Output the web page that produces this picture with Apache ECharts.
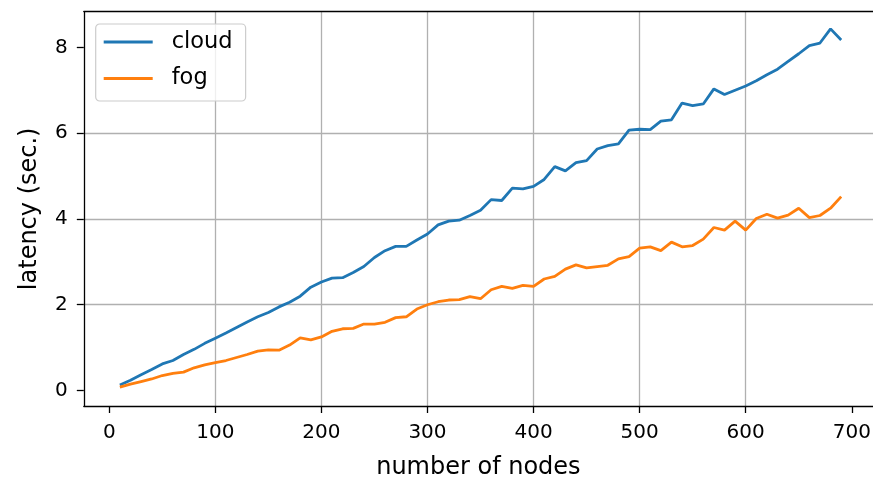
<!DOCTYPE html>
<html>
<head>
<meta charset="utf-8">
<script src="https://cdn.jsdelivr.net/npm/echarts@6/dist/echarts.min.js"></script>
<style>
html,body{margin:0;padding:0;background:#fff;}
#chart{width:873px;height:477px;}
</style>
</head>
<body>
<div id="chart"></div>
<script>
var nodes = [10,20,30,40,50,60,70,80,90,100,110,120,130,140,150,160,170,180,190,200,
  210,220,230,240,250,260,270,280,290,300,310,320,330,340,350,360,370,380,390,400,
  410,420,430,440,450,460,470,480,490,500,510,520,530,540,550,560,570,580,590,600,
  610,620,630,640,650,660,670,680,690];
var cloud = [0.13,0.24,0.37,0.49,0.62,0.70,0.84,0.96,1.10,1.22,1.34,1.47,1.60,1.72,1.82,1.95,2.06,2.20,2.41,2.53,
  2.62,2.63,2.75,2.89,3.10,3.26,3.36,3.36,3.51,3.65,3.86,3.95,3.97,4.08,4.20,4.45,4.43,4.72,4.70,4.76,
  4.92,5.22,5.12,5.31,5.36,5.63,5.71,5.75,6.07,6.09,6.08,6.28,6.31,6.70,6.64,6.68,7.03,6.90,7.00,7.10,
  7.22,7.36,7.49,7.67,7.85,8.04,8.10,8.43,8.17];
var fog = [0.08,0.15,0.21,0.27,0.35,0.40,0.43,0.53,0.60,0.65,0.70,0.77,0.84,0.92,0.95,0.94,1.06,1.23,1.18,1.25,
  1.38,1.44,1.45,1.55,1.55,1.59,1.70,1.72,1.90,2.00,2.07,2.11,2.12,2.19,2.14,2.35,2.43,2.38,2.45,2.43,
  2.60,2.66,2.83,2.93,2.86,2.89,2.92,3.07,3.12,3.32,3.35,3.26,3.46,3.35,3.38,3.53,3.80,3.74,3.95,3.74,
  4.01,4.11,4.02,4.09,4.25,4.03,4.08,4.25,4.52];
var xTicks = [0,100,200,300,400,500,600,700];
var yTicks = [0,2,4,6,8];
var seriesNames = ['cloud','fog'];

function pairs(xs, ys){ return xs.map(function(x,i){ return [x, ys[i]]; }); }

var FONT = 'DejaVu Sans';
var XMIN = -24, XMAX = 720, YMIN = -0.36, YMAX = 8.83;
var chart = echarts.init(document.getElementById('chart'), null, {renderer:'canvas'});
chart.setOption({
  animation: false,
  backgroundColor: '#ffffff',
  grid: {left: 83.8, top: 11.7, right: 0, bottom: 71, show: false, containLabel: false, outerBoundsMode: 'none'},
  legend: {
    data: seriesNames, orient: 'vertical', left: 95.7, top: 24,
    icon: 'rect', itemWidth: 49, itemHeight: 2.8, itemGap: 13.5,
    padding: [6.5, 13, 11, 8],
    backgroundColor: 'rgba(255,255,255,0.8)', borderColor: '#cccccc', borderWidth: 1.2, borderRadius: 4,
    textStyle: {fontFamily: FONT, fontSize: 22.5, color: '#000', padding: [0,0,0,14]}
  },
  xAxis: [{
    type: 'value', min: XMIN, max: XMAX, position: 'bottom',
    name: 'number of nodes', nameLocation: 'middle', nameGap: 50,
    nameTextStyle: {fontFamily: FONT, fontSize: 24, color: '#000'},
    axisLine: {show: true, onZero: false, lineStyle: {color: '#000', width: 1.3}},
    axisTick: {show: true, inside: false, length: 7, lineStyle: {color: '#000', width: 1.3}, customValues: xTicks},
    axisLabel: {fontFamily: FONT, fontSize: 20, color: '#000', margin: 17, customValues: xTicks},
    splitLine: {show: true, showMinLine: false, showMaxLine: false, lineStyle: {color: '#b0b0b0', width: 1.3}}
  }, {
    type: 'value', min: XMIN, max: XMAX, position: 'top',
    axisLine: {show: true, onZero: false, lineStyle: {color: '#000', width: 1.3}},
    axisTick: {show: false}, axisLabel: {show: false}, splitLine: {show: false}
  }],
  yAxis: {
    type: 'value', min: YMIN, max: YMAX,
    name: 'latency (sec.)', nameLocation: 'middle', nameGap: 42.5,
    nameTextStyle: {fontFamily: FONT, fontSize: 24, color: '#000'},
    axisLine: {show: true, onZero: false, lineStyle: {color: '#000', width: 1.3}},
    axisTick: {show: true, inside: false, length: 7, lineStyle: {color: '#000', width: 1.3}, customValues: yTicks},
    axisLabel: {fontFamily: FONT, fontSize: 20, color: '#000', margin: 16, customValues: yTicks},
    splitLine: {show: true, showMinLine: false, showMaxLine: false, lineStyle: {color: '#b0b0b0', width: 1.3}}
  },
  series: [
    {name: seriesNames[0], type: 'line', xAxisIndex: 0, data: pairs(nodes, cloud), showSymbol: false, symbol: 'none',
     lineStyle: {color: '#1f77b4', width: 2.8}, itemStyle: {color: '#1f77b4'}},
    {name: seriesNames[1], type: 'line', xAxisIndex: 0, data: pairs(nodes, fog), showSymbol: false, symbol: 'none',
     lineStyle: {color: '#ff7f0e', width: 2.8}, itemStyle: {color: '#ff7f0e'}}
  ]
});
</script>
</body>
</html>
